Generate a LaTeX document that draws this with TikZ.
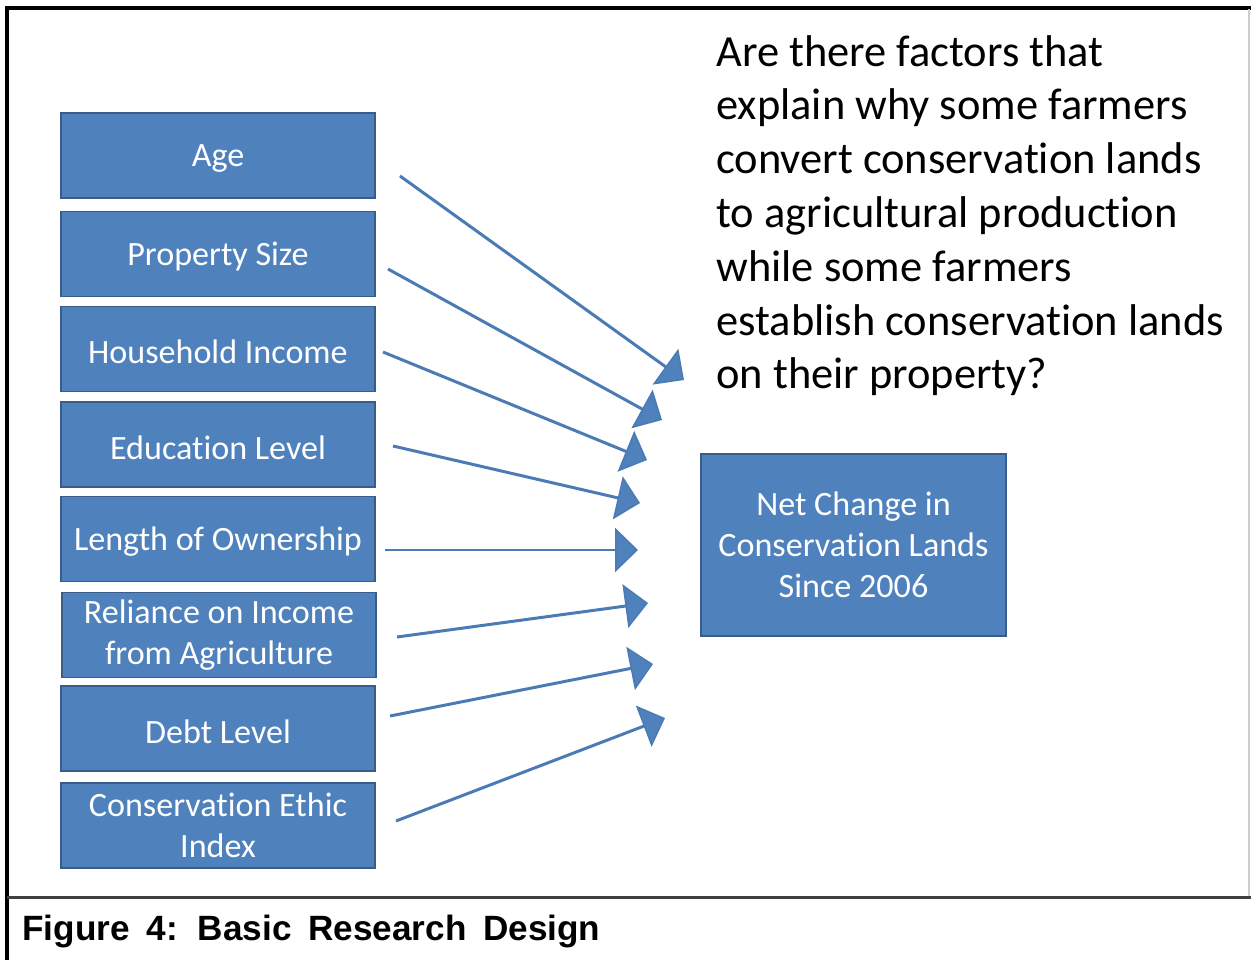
\documentclass[tikz,border=0pt]{standalone}
\usepackage{fontspec}
\setmainfont[Ligatures={NoCommon,NoContextual}]{Carlito}
\newfontfamily\capfont{Liberation Sans}
\usetikzlibrary{arrows.meta}
\definecolor{boxblue}{HTML}{4F81BD}
\definecolor{boxline}{HTML}{385D8A}
\definecolor{sepgray}{HTML}{404040}
\newcommand{\lowr}[1]{\raisebox{-1.6pt}[\height][\depth]{#1}}
\tikzset{
  box/.style={draw=boxline, fill=boxblue, line width=1.1pt, text=white, inner sep=0pt,
    minimum width=6.28cm, minimum height=1.7cm, align=center,
    font=\fontsize{19.4}{23.2}\selectfont},
  fanarrow/.style={draw=boxblue!95!black, line width=1.7pt,
    -{Triangle[length=13pt,width=25pt,fill=boxblue,line width=0.9pt]},
    shorten >=0pt},
}
\begin{document}
\begin{tikzpicture}[x=0.02cm,y=-0.02cm]
\useasboundingbox (0,0) rectangle (1251,960);
% frame
\draw[line width=1.8pt,black] (7,960) -- (7,8) -- (1251,8);
\draw[line width=0.6pt,gray!40] (1249,9) -- (1249,897);
\draw[line width=1.7pt,sepgray] (7,897) -- (1251,897);
% left boxes
\node[box] (age) at (218,155.5) {\lowr{Age}};
\node[box] (prop) at (218,254) {\lowr{Property Size}};
\node[box] (hinc) at (218,349) {\lowr{Household Income}};
\node[box] (edu) at (218,444.5) {\lowr{Education Level}};
\node[box] (own) at (218,539) {\lowr{Length of Ownership}};
\node[box] (rel) at (219,635) {Reliance on Income\\from Agriculture};
\node[box] (debt) at (218,728.5) {\lowr{Debt Level}};
\node[box] (eth) at (218,825.5) {Conservation Ethic\\Index};
% target box
\node[box, minimum width=6.1cm, minimum height=3.64cm] (net) at (853.5,545) {Net Change in\\Conservation Lands\\Since 2006};
% question
\node[anchor=north west, inner sep=0pt, align=left,
  font=\fontsize{25.3}{30.6}\selectfont] (q) at (716,35)
  {Are there factors that\\explain why some farmers\\convert conservation lands\\to agricultural production\\while some farmers\\establish conservation lands\\on their property?};
% arrow ends
\coordinate (s1) at (400,176); \coordinate (t1) at (684,380);
\coordinate (s2) at (388,269); \coordinate (t2) at (662,420);
\coordinate (s3) at (383,352); \coordinate (t3) at (647,460);
\coordinate (s4) at (393,446); \coordinate (t4) at (640,503);
\coordinate (s5) at (385,550); \coordinate (t5) at (638,550);
\coordinate (s6) at (397,637); \coordinate (t6) at (648,603);
\coordinate (s7) at (390,716); \coordinate (t7) at (653,664);
\coordinate (s8) at (396,821); \coordinate (t8) at (665,718);
\foreach \i in {1,...,8} { \draw[fanarrow] (s\i) -- (t\i); }
% caption
\node[anchor=base west, inner sep=0pt, font=\capfont\bfseries\fontsize{20}{24}\selectfont] (cap) at (22,940)
  {Figure\hspace{0.2em} 4:\hspace{0.2em} Basic\hspace{0.2em} Research\hspace{0.2em} Design};
\end{tikzpicture}
\end{document}
